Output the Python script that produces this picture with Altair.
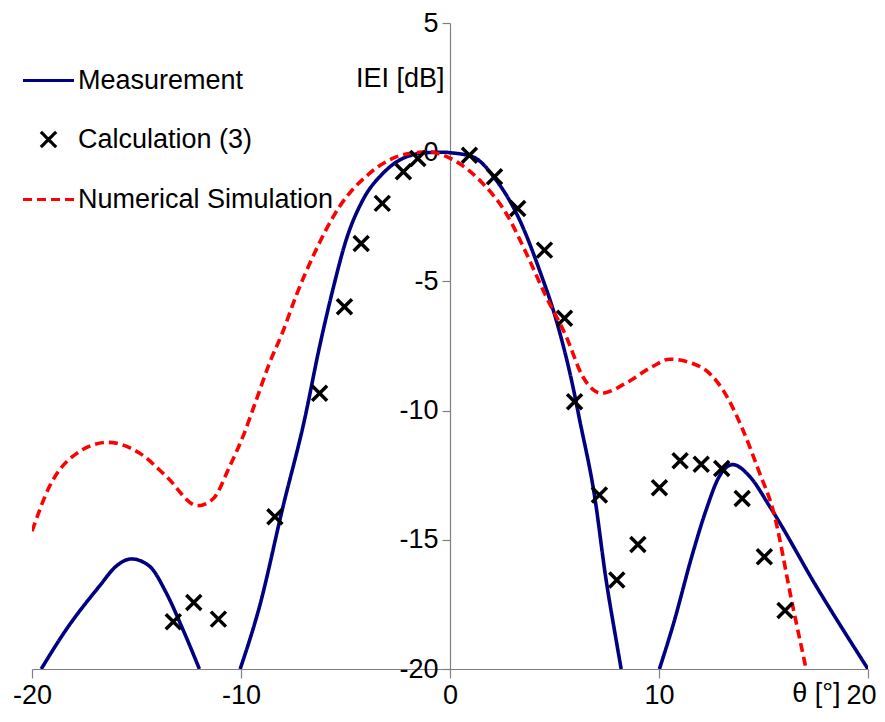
import altair as alt
import pandas as pd

SERIES = ["Measurement", "Calculation (3)", "Numerical Simulation"]
COLORS = ["#000080", "#000000", "#FF0000"]

# Measurement (solid navy) - three visible segments above -20 dB
meas_x = [-19.56, -18.36, -16.77, -15.97, -15.25, -14.38, -13.58, -12.78, -11.99,
          -10.04, -9.11, -8.0, -6.96, -6.24, -5.61, -4.97, -4.17, -3.21, -2.26, -1.14, -0.3, 0.0,
          1.09, 2.21, 3.33, 4.28, 5.08, 5.88, 6.2, 6.91, 7.47, 7.95, 8.19,
          10.02, 10.66, 11.62, 12.26, 12.89, 13.53, 14.33, 15.29, 17.6, 20.0]
meas_y = [-20.0, -18.47, -16.79, -16.02, -15.74, -16.02, -17.05, -18.47, -20.0,
          -20.0, -17.57, -13.75, -10.35, -7.52, -5.33, -3.40, -1.85, -0.82, -0.24, -0.02, 0.0, -0.02,
          -0.18, -1.08, -2.62, -4.56, -6.49, -9.07, -10.35, -13.27, -16.56, -18.88, -20.0,
          -20.0, -18.34, -15.50, -13.83, -12.54, -12.09, -12.54, -13.70, -16.9, -20.0]
meas_seg = [1]*9 + [2]*24 + [3]*10

# Numerical simulation (dashed red)
sim_x = [-20.0, -19.16, -18.05, -16.37, -14.86, -13.58, -12.07, -11.32, -10.55, -9.91, -9.27,
         -8.64, -8.0, -7.36, -6.48, -5.29, -3.85, -2.57, -1.46, -1.0, -0.5, 0.45, 1.57, 2.69, 3.65,
         4.6, 5.56, 6.35, 7.25, 8.43, 9.7, 10.5, 11.94, 13.05, 14.01, 14.81, 15.45, 16.4, 17.04]
sim_y = [-14.67, -12.93, -11.77, -11.23, -11.64, -12.54, -13.68, -13.40, -12.17, -11.01, -9.59,
         -8.17, -6.95, -5.55, -3.9, -2.11, -0.82, -0.18, 0.0, 0.02, -0.07, -0.44, -1.21, -2.37, -3.91,
         -5.59, -7.13, -8.68, -9.33, -8.93, -8.29, -8.01, -8.29, -9.19, -10.74, -12.41, -13.83, -17.57, -20.0]

# Calculation (3) (black crosses)
calc_x = [-13.24, -12.26, -11.08, -8.38, -6.24, -5.05, -4.25, -3.24, -2.23, -1.54,
          0.93, 2.13, 3.24, 4.52, 5.48, 5.96, 7.15, 7.98, 8.99, 10.02, 11.01, 12.02, 13.0,
          13.98, 15.04, 16.03]
calc_y = [-18.17, -17.43, -18.07, -14.11, -9.33, -5.98, -3.53, -1.98, -0.76, -0.24,
          -0.12, -0.95, -2.18, -3.79, -6.43, -9.66, -13.27, -16.56, -15.18, -12.99, -11.94,
          -12.08, -12.24, -13.40, -15.66, -17.74]

X_TICKS = [-20, -10, 0, 10, 20]
Y_TICKS = [-20, -15, -10, -5, 0, 5]

lines_df = pd.concat([
    pd.DataFrame({"x": meas_x, "y": meas_y, "series": SERIES[0],
                  "seg": [f"m{s}" for s in meas_seg]}),
    pd.DataFrame({"x": sim_x, "y": sim_y, "series": SERIES[2], "seg": "s1"}),
])
calc_df = pd.DataFrame({"x": calc_x, "y": calc_y, "series": SERIES[1]})

FONT = "Liberation Sans"
XPATH = "M-0.3,-0.3L0.3,0.3M-0.3,0.3L0.3,-0.3"

xscale = alt.Scale(domain=[-20, 20], nice=False, zero=False)
yscale = alt.Scale(domain=[-20, 5], nice=False, zero=False)

x_enc = alt.X("x:Q", scale=xscale, axis=alt.Axis(
    values=X_TICKS, labelExpr="'' + datum.value", labelFlush=False,
    labelOffset={"condition": {"test": "datum.value == 20", "value": -7}, "value": 0},
    title="θ [°]", titleAngle=0,
    titleAlign="right", titleBaseline="middle", titleX=808, titleY=24,
    titleFontWeight="normal"))
y_enc = alt.Y("y:Q", scale=yscale, axis=alt.Axis(
    values=Y_TICKS, labelExpr="'' + datum.value", labelFlush=False,
    title="IEI [dB]", titleAngle=0,
    titleAlign="right", titleBaseline="middle", titleX=-6, titleY=55,
    titleFontWeight="normal", offset=-418))

legend = alt.Legend(title=None, orient="none", legendX=-11, legendY=30,
                    symbolSize=2601, symbolStrokeWidth=3.2, labelOffset=2,
                    rowPadding=18, padding=0, labelFont=FONT, labelFontSize=27,
                    labelColor="#000000", labelLimit=400)

color = alt.Color("series:N", scale=alt.Scale(domain=SERIES, range=COLORS), legend=legend)

lines = alt.Chart(lines_df).mark_line(strokeWidth=3.6, interpolate="monotone", clip=True).encode(
    x=x_enc, y=y_enc, color=color,
    strokeDash=alt.StrokeDash("series:N", scale=alt.Scale(domain=SERIES, range=[[1, 0], [1, 0], [9, 5]]), legend=legend),
    detail="seg:N",
)

points = alt.Chart(calc_df).mark_point(filled=False, size=2500, strokeWidth=3.5, opacity=1).encode(
    x=x_enc, y=y_enc, color=color,
    shape=alt.Shape("series:N", scale=alt.Scale(domain=SERIES, range=["stroke", XPATH, "stroke"]), legend=legend),
)

chart = alt.layer(lines, points).properties(
    width=836, height=646,
    autosize=alt.AutoSizeParams(type="none"),
    padding={"left": 24, "top": 15, "right": 9, "bottom": 40},
).configure_view(stroke=None).configure_axis(
    labelFont=FONT, labelFontSize=27, labelColor="#000000",
    titleFont=FONT, titleFontSize=27, titleColor="#000000",
    domainColor="#808080", tickColor="#808080", domainWidth=1.2, tickWidth=1.2,
    tickSize=8, labelPadding=4, grid=False,
).configure_axisX(labelPadding=4, tickSize=9)

chart.save("out.html", embed_options={"renderer": "svg", "actions": False})
